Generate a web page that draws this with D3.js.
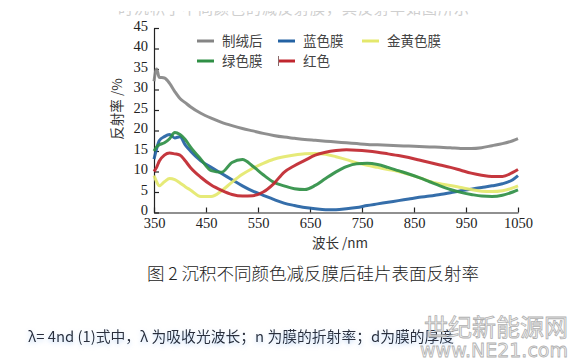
<!DOCTYPE html>
<html>
<head>
<meta charset="utf-8">
<script src="https://cdn.jsdelivr.net/npm/d3@7"></script>
<style>
  html, body { margin: 0; padding: 0; background: #fff; }
  svg { display: block; }
</style>
</head>
<body>
<div id="chart"></div>
<script>
// wavelength grid (nm) shared by every curve
const wavelengths = [350, 355, 360, 370, 380, 390, 400, 410, 420, 440, 460, 480, 500, 520, 540, 560, 580, 600, 620, 640, 660, 680, 700, 720, 740, 760, 780, 800, 820, 840, 860, 880, 900, 920, 940, 960, 980, 1000, 1020, 1040, 1050];

// reflectance (%)
const textured = [32, 35, 33, 32.8, 31.5, 29.5, 27.8, 26.8, 25.8, 24.2, 23, 22, 21.2, 20.5, 19.9, 19.3, 18.8, 18.4, 18.1, 17.8, 17.6, 17.4, 17.2, 17, 16.8, 16.6, 16.5, 16.4, 16.3, 16.2, 16.1, 16, 15.9, 15.8, 15.6, 15.6, 15.8, 16.3, 16.8, 17.5, 18];
const blue_film = [13, 15.5, 17.5, 18.5, 19, 18.2, 18.5, 16.5, 15, 12.6, 11, 9.5, 8, 6.5, 5.2, 4.2, 3.2, 2.3, 1.7, 1.2, 0.9, 0.7, 0.7, 0.9, 1.2, 1.7, 2.1, 2.5, 2.9, 3.3, 3.7, 4, 4.4, 4.8, 5.3, 5.7, 6.1, 6.5, 7, 8, 9];
const gold_film = [9, 7.5, 6.5, 7.5, 8.3, 8, 7.2, 6.3, 5.5, 3.9, 3.9, 5.3, 7.4, 9.3, 10.8, 12, 13, 13.6, 14, 14.3, 14.4, 14.2, 13.6, 12.9, 12.1, 11.5, 11, 10.5, 10, 9.3, 8.5, 7.6, 7, 6.6, 6.1, 5.6, 5.2, 5.1, 5.3, 6, 6.5];
const green_film = [15, 16, 16.5, 17, 18, 19.5, 19, 17.8, 16, 13, 10.2, 9.8, 12.2, 12.9, 11.3, 9.2, 7.4, 6.5, 5.8, 5.6, 6.6, 8.3, 9.9, 11.2, 11.9, 12, 11.7, 11, 10.2, 9.4, 8.5, 7.5, 6.5, 5.6, 4.9, 4.4, 4, 3.9, 4.2, 5, 5.5];
const red_film = [10, 11, 12.5, 14, 14.5, 14.3, 14, 12.6, 11, 8.6, 6.7, 5.4, 4.4, 4, 4.1, 5, 7, 9.8, 11.4, 12.7, 14, 14.7, 15.1, 15.3, 15.2, 15, 14.7, 14.3, 13.9, 13.4, 12.8, 12.2, 11.6, 11, 10.3, 9.6, 9.1, 8.8, 8.8, 9.8, 10.5];

const series_names = ["制绒后", "蓝色膜", "金黄色膜", "绿色膜", "红色"];
const series_values = [textured, blue_film, gold_film, green_film, red_film];
const series_colors = ["#858585", "#2462a3", "#e4e86c", "#2f8f45", "#c0262e"];

const x_ticks = [350, 450, 550, 650, 750, 850, 950, 1050];
const y_ticks = [0, 5, 10, 15, 20, 25, 30, 35, 40, 45];

const caption = "图 2  沉积不同颜色减反膜后硅片表面反射率";
const note = "λ= 4nd (1)式中，λ 为吸收光波长；n 为膜的折射率；d为膜的厚度";
const cut_line = "时沉积了不同颜色的减反射膜，其反射率如图所示";

const width = 574;
const height = 362;
const plot = { left: 154, right: 518, top: 28, bottom: 212.5 };

const svg = d3
  .select("#chart")
  .append("svg")
  .attr("width", width)
  .attr("height", height);

const defs = svg.append("defs");

defs
  .append("clipPath")
  .attr("id", "cut_clip")
  .append("rect")
  .attr("x", 0)
  .attr("y", 11)
  .attr("width", width)
  .attr("height", 5);

const glow = defs.append("filter").attr("id", "blue_glow").attr("x", "-5%").attr("y", "-50%").attr("width", "110%").attr("height", "220%");
glow.append("feFlood").attr("flood-color", "#8fb8ee").attr("flood-opacity", 0.55).attr("result", "flood");
glow.append("feComposite").attr("in", "flood").attr("in2", "SourceAlpha").attr("operator", "in").attr("result", "tint");
glow.append("feGaussianBlur").attr("in", "tint").attr("stdDeviation", 2.2).attr("result", "blur");
glow.append("feOffset").attr("in", "blur").attr("dy", 2).attr("result", "shadow");
const merge = glow.append("feMerge");
merge.append("feMergeNode").attr("in", "shadow");
merge.append("feMergeNode").attr("in", "SourceGraphic");

// last line of the previous paragraph, cut by the crop
svg
  .append("text")
  .attr("clip-path", "url(#cut_clip)")
  .attr("x", 118)
  .attr("y", 14)
  .attr("font-family", "Noto Sans CJK SC")
  .attr("font-size", 15)
  .attr("letter-spacing", 1)
  .attr("fill", "#cfcfcf")
  .text(cut_line);

const X = d3.scaleLinear().domain([350, 1050]).range([plot.left, plot.right]);
const Y = d3.scaleLinear().domain([0, 45]).range([plot.bottom, plot.top]);

const axis_font = "'Liberation Serif', 'DejaVu Serif', serif";

const x_axis = svg
  .append("g")
  .attr("transform", `translate(0, ${plot.bottom})`)
  .call(d3.axisBottom(X).tickValues(x_ticks).tickSizeInner(-5).tickSizeOuter(0).tickPadding(5).tickFormat(d3.format("d")));

const y_axis = svg
  .append("g")
  .attr("transform", `translate(${plot.left}, 0)`)
  .call(d3.axisLeft(Y).tickValues(y_ticks).tickSizeInner(-5).tickSizeOuter(0).tickPadding(6).tickFormat(d3.format("d")));

[x_axis, y_axis].forEach((ax) => {
  ax.selectAll("path.domain").attr("stroke", "#222").attr("stroke-width", 1.2);
  ax.selectAll(".tick line").attr("stroke", "#222").attr("stroke-width", 1.2);
  ax.selectAll(".tick text")
    .attr("font-family", axis_font)
    .attr("font-size", 14.5)
    .attr("fill", "#222");
});
y_axis.selectAll(".tick text").attr("dy", "0.15em");

// axis titles
svg
  .append("text")
  .attr("x", 340)
  .attr("y", 248)
  .attr("text-anchor", "middle")
  .attr("font-family", "'Noto Sans CJK SC'")
  .attr("font-size", 13.5)
  .attr("fill", "#333")
  .text("波长 /nm");

svg
  .append("text")
  .attr("transform", "translate(122, 109) rotate(-90)")
  .attr("text-anchor", "middle")
  .attr("font-family", "'Noto Sans CJK SC'")
  .attr("font-size", 13.5)
  .attr("fill", "#333")
  .text("反射率 /%");

// curves
const line = d3
  .line()
  .curve(d3.curveMonotoneX)
  .x((d, i) => X(wavelengths[i]))
  .y((d) => Y(d));

svg
  .append("g")
  .selectAll("path")
  .data(series_values)
  .join("path")
  .attr("d", (d) => line(d))
  .attr("fill", "none")
  .attr("stroke", (d, i) => series_colors[i])
  .attr("stroke-width", 3)
  .attr("stroke-linejoin", "round")
  .attr("stroke-opacity", 0.92);

// legend
const legend_cols = [197, 278, 362];
const legend_rows = [41, 61];
const legend_g = svg.append("g");

series_names.forEach((name, i) => {
  const lx = legend_cols[i % 3];
  const ly = legend_rows[Math.floor(i / 3)];
  const item = legend_g.append("g").attr("transform", `translate(${lx}, ${ly})`);
  item
    .append("line")
    .attr("x1", 0)
    .attr("x2", 17)
    .attr("stroke", series_colors[i])
    .attr("stroke-width", 3);
  if (name === "红色") {
    item
      .append("line")
      .attr("x1", 0.5)
      .attr("x2", 0.5)
      .attr("y1", -5)
      .attr("y2", 5)
      .attr("stroke", "#8a6a6a")
      .attr("stroke-width", 1);
  }
  item
    .append("text")
    .attr("x", 25)
    .attr("y", 0)
    .attr("dy", "0.36em")
    .attr("font-family", "'Noto Sans CJK SC'")
    .attr("font-size", 13.5)
    .attr("fill", "#444")
    .text(name);
});

// figure caption
svg
  .append("text")
  .attr("x", 313)
  .attr("y", 280)
  .attr("text-anchor", "middle")
  .attr("font-family", "'Noto Sans CJK SC'")
  .attr("font-weight", 300)
  .attr("font-size", 17.5)
  .attr("fill", "#222")
  .text(caption);

// body text under the figure
svg
  .append("text")
  .attr("x", 28)
  .attr("y", 342)
  .attr("font-family", "'Noto Sans CJK SC'")
  .attr("font-size", 14.8)
  .attr("fill", "#2a2f3a")
  .attr("filter", "url(#blue_glow)")
  .text(note);

// site watermark
const mark = svg.append("g").attr("fill", "#f4f4f4").attr("fill-opacity", 0.85).attr("stroke", "#b0b0b0").attr("stroke-width", 0.8);
mark
  .append("text")
  .attr("x", 568)
  .attr("y", 336)
  .attr("text-anchor", "end")
  .attr("font-family", "'Noto Sans CJK SC'")
  .attr("font-size", 24)
  .text("世纪新能源网");
mark
  .append("text")
  .attr("x", 568)
  .attr("y", 357)
  .attr("text-anchor", "end")
  .attr("font-family", "'DejaVu Sans'")
  .attr("font-size", 19)
  .text("www.NE21.com");
</script>
</body>
</html>
